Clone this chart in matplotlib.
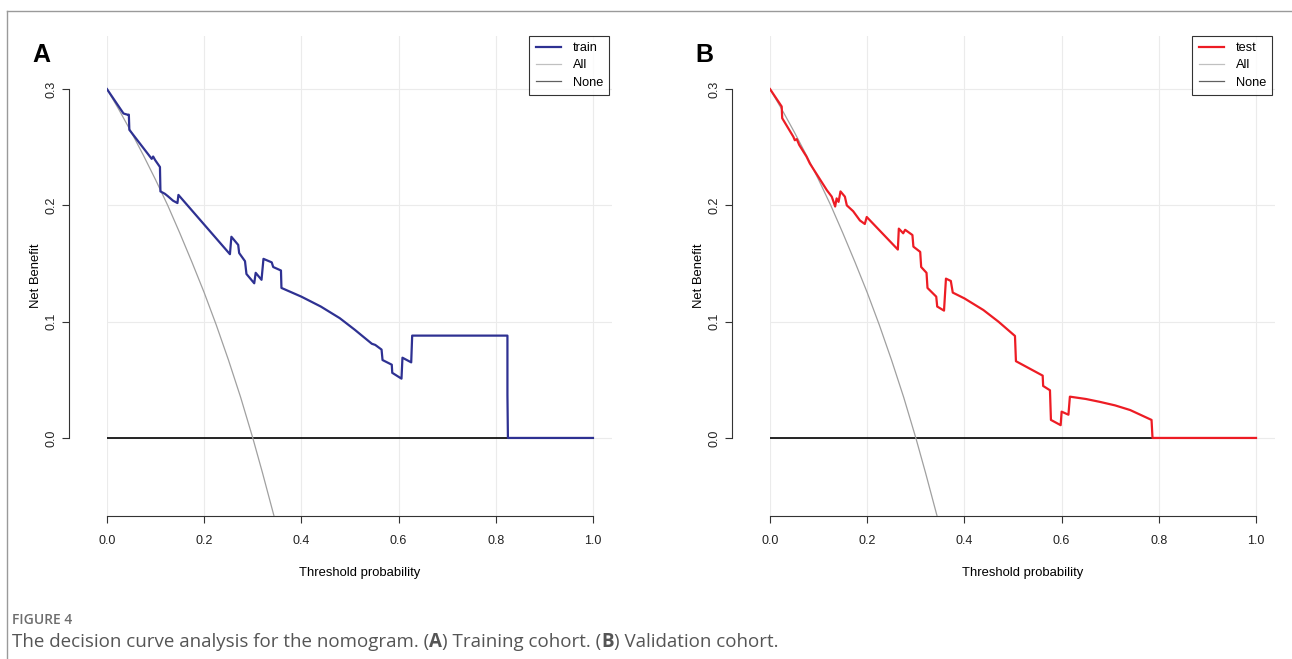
import matplotlib
matplotlib.use("Agg")
import matplotlib.pyplot as plt
from matplotlib.lines import Line2D

plt.rcParams['font.family'] = ['Liberation Sans', 'DejaVu Sans']

# treat-all reference curve
all_x = [0.0, 0.025, 0.05, 0.075, 0.1, 0.125, 0.15, 0.175, 0.2, 0.225, 0.25, 0.275, 0.3, 0.32, 0.35]
all_y = [0.300, 0.282, 0.263, 0.243, 0.222, 0.200, 0.176, 0.151, 0.125, 0.097, 0.067, 0.035, 0.000, -0.030, -0.077]

# training cohort
train_x = [0.0, 0.034, 0.042, 0.045, 0.046, 0.092, 0.095, 0.099, 0.109, 0.110, 0.119, 0.125, 0.136,
           0.145, 0.147, 0.253, 0.256, 0.270, 0.272, 0.284, 0.287, 0.303, 0.306, 0.318, 0.322, 0.339,
           0.342, 0.358, 0.359, 0.40, 0.44, 0.479, 0.51, 0.545, 0.552, 0.565, 0.567, 0.586, 0.587,
           0.606, 0.608, 0.626, 0.628, 0.824, 0.824, 0.825, 1.0]
train_y = [0.300, 0.279, 0.278, 0.278, 0.265, 0.240, 0.242, 0.239, 0.233, 0.212, 0.210, 0.208, 0.204,
           0.202, 0.209, 0.158, 0.173, 0.166, 0.159, 0.152, 0.141, 0.133, 0.142, 0.136, 0.154, 0.151,
           0.147, 0.144, 0.129, 0.1215, 0.113, 0.103, 0.093, 0.081, 0.080, 0.076, 0.067, 0.063, 0.056,
           0.051, 0.069, 0.065, 0.088, 0.088, 0.037, 0.0, 0.0]

# validation cohort
test_x = [0.0, 0.024, 0.025, 0.048, 0.051, 0.055, 0.060, 0.075, 0.082, 0.117, 0.127, 0.134, 0.137,
          0.141, 0.145, 0.154, 0.158, 0.171, 0.185, 0.195, 0.199, 0.263, 0.265, 0.274, 0.278, 0.293,
          0.295, 0.309, 0.311, 0.322, 0.324, 0.342, 0.344, 0.358, 0.362, 0.372, 0.376, 0.40, 0.439,
          0.47, 0.504, 0.506, 0.561, 0.562, 0.576, 0.578, 0.598, 0.600, 0.614, 0.617, 0.65, 0.679,
          0.71, 0.741, 0.785, 0.787, 1.0]
test_y = [0.300, 0.285, 0.275, 0.259, 0.256, 0.257, 0.252, 0.242, 0.236, 0.213, 0.2075, 0.199, 0.206,
          0.203, 0.212, 0.2075, 0.200, 0.195, 0.187, 0.184, 0.190, 0.162, 0.180, 0.176, 0.179, 0.1745,
          0.1645, 0.160, 0.147, 0.142, 0.129, 0.1215, 0.113, 0.1095, 0.137, 0.135, 0.125, 0.120, 0.110,
          0.100, 0.0877, 0.066, 0.0536, 0.0447, 0.041, 0.0155, 0.011, 0.0226, 0.020, 0.0355, 0.0335, 0.031,
          0.028, 0.024, 0.0155, 0.0, 0.0]

xticks = [0.0, 0.2, 0.4, 0.6, 0.8, 1.0]
yticks = [0.0, 0.1, 0.2, 0.3]

panels = [
    ("A", "train", train_x, train_y, "#2e3192", 0.0828),
    ("B", "test", test_x, test_y, "#ed1c24", 0.5960),
]

fig = plt.figure(figsize=(12.92, 6.59), dpi=100)

for letter, name, xs, ys, color, left in panels:
    ax = fig.add_axes([left, 0.2172, 0.3912, 0.7288])
    ax.set_xlim(0, 1.04)
    ax.set_ylim(-0.067, 0.346)
    # light grid
    for gx in xticks:
        ax.axvline(gx, color="#ebebeb", lw=0.8, zorder=0)
    for gy in yticks:
        ax.axhline(gy, color="#ebebeb", lw=0.8, zorder=0)
    ax.plot([0, 1], [0, 0], color="black", lw=1.2, zorder=2)
    ax.plot(all_x, all_y, color="#a0a0a0", lw=0.9, zorder=3)
    ax.plot(xs, ys, color=color, lw=1.6, zorder=4)

    for s in ["top", "right"]:
        ax.spines[s].set_visible(False)
    ax.spines["left"].set_position(("outward", 27.4))
    ax.spines["left"].set_bounds(0, 0.3)
    ax.spines["bottom"].set_bounds(0, 1)
    ax.spines["left"].set_color("#333333")
    ax.spines["bottom"].set_color("#333333")
    ax.set_xticks(xticks)
    ax.set_xticklabels([f"{t:.1f}" for t in xticks])
    ax.set_yticks(yticks)
    ax.set_yticklabels([f"{t:.1f}" for t in yticks], rotation=90, va="center")
    ax.tick_params(length=5, width=0.8, labelsize=9, colors="#333333", labelcolor="#222222")
    ax.tick_params(axis="x", pad=9)
    ax.tick_params(axis="y", pad=3)
    ax.set_xlabel("Threshold probability", fontsize=9.4, labelpad=14)
    ax.set_ylabel("Net Benefit", fontsize=9.4, labelpad=3)

    handles = [Line2D([], [], color=color, lw=1.6),
               Line2D([], [], color="#c0c0c0", lw=0.9),
               Line2D([], [], color="#606060", lw=0.9)]
    leg = ax.legend(handles, [name, "All", "None"], loc="upper right",
                    bbox_to_anchor=(0.994, 1.0), fontsize=9.2, frameon=True, fancybox=False,
                    handlelength=2.0, handletextpad=0.9, labelspacing=0.42,
                    borderpad=0.5, borderaxespad=0.0)
    leg.get_frame().set_edgecolor("black")
    leg.get_frame().set_linewidth(0.8)

    fig.text(left - 0.0505, 0.917, letter, fontsize=18, fontweight="bold", ha="center", va="center")

# journal frame
fig.add_artist(Line2D([7 / 1292, 1], [1 - 11 / 659] * 2, color="#9a9a9a", lw=1.0))
fig.add_artist(Line2D([7 / 1292] * 2, [0, 1 - 11 / 659], color="#9a9a9a", lw=1.0))

fig.text(12 / 1292, 1 - 620 / 659, "FIGURE 4", fontsize=10, color="#6d6d6d", va="center",
         family=["Open Sans", "DejaVu Sans"], fontweight="semibold")

# caption with bold panel letters
parts = [("The decision curve analysis for the nomogram. (", "normal"), ("A", "bold"),
         (") Training cohort. (", "normal"), ("B", "bold"), (") Validation cohort.", "normal")]
renderer = fig.canvas.get_renderer()
xpos = 12 / 1292
for txt, weight in parts:
    t = fig.text(xpos, 1 - 642 / 659, txt, fontsize=13.5, color="#555555", va="center",
                 family=["Open Sans", "DejaVu Sans"], fontweight=weight)
    bb = t.get_window_extent(renderer=renderer)
    xpos += bb.width / fig.bbox.width

fig.savefig("out.png", dpi=100)
